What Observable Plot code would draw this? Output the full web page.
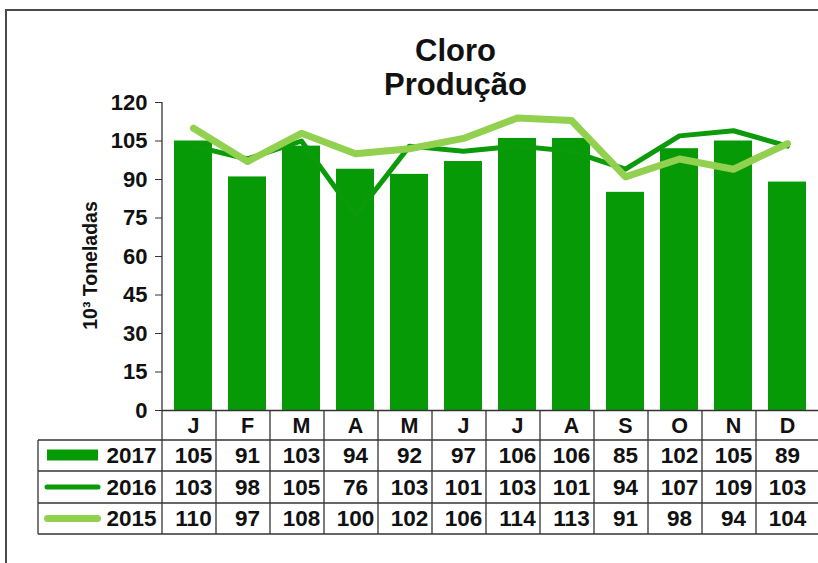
<!DOCTYPE html>
<html>
<head>
<meta charset="utf-8">
<script src="https://cdn.jsdelivr.net/npm/d3@7"></script>
<script src="https://cdn.jsdelivr.net/npm/@observablehq/plot@0.6"></script>
<style>
  html, body { margin: 0; padding: 0; background: #fff; }
  #wrap { position: relative; width: 818px; height: 563px; overflow: hidden; }
  #border { position: absolute; left: 5px; top: 9px; right: -10px; bottom: -10px;
            border-top: 2px solid #4a4a4a; border-left: 2px solid #4a4a4a; pointer-events: none; }
  #chart { position: absolute; left: 0; top: 0; }
</style>
</head>
<body>
<div id="wrap"><div id="chart"></div><div id="border"></div></div>
<script>
const months = ["Jan","Fev","Mar","Abr","Mai","Jun","Jul","Ago","Set","Out","Nov","Dez"];
const monthLetters = ["J","F","M","A","M","J","J","A","S","O","N","D"];
const v2017 = [105, 91, 103, 94, 92, 97, 106, 106, 85, 102, 105, 89];
const v2016 = [103, 98, 105, 76, 103, 101, 103, 101, 94, 107, 109, 103];
const v2015 = [110, 97, 108, 100, 102, 106, 114, 113, 91, 98, 94, 104];
const yTicks = [0, 15, 30, 45, 60, 75, 90, 105, 120];
const seriesNames = ["2017", "2016", "2015"];
const titleLines = ["Cloro", "Produção"];
const yLabel = "10³ Toneladas";

const C2017 = "#079a07", C2016 = "#0a9a0a", C2015 = "#92d050";

const toRows = (vals) => months.map((m, i) => ({month: m, value: vals[i]}));
const d2017 = toRows(v2017), d2016 = toRows(v2016), d2015 = toRows(v2015);
const header = months.map((m, i) => ({month: m, letter: monthLetters[i]}));

const FONT = "Liberation Sans, Arial, sans-serif";
// row centers below the x axis (pixel offsets)
const rowDy = [45.5, 77, 108.5];
const numFont = {fontFamily: FONT, fontWeight: "bold", fontSize: 22.5, fill: "#111", lineAnchor: "middle"};

const chart = Plot.plot({
  width: 818,
  height: 563,
  marginLeft: 162,
  marginRight: 0,
  marginTop: 102,
  marginBottom: 153,
  style: {fontFamily: FONT, color: "#111", background: "transparent", overflow: "visible"},
  x: {domain: months, paddingInner: 0.3, paddingOuter: 0.15, axis: null},
  y: {domain: [0, 120], axis: null},
  marks: [
    Plot.barY(d2017, {x: "month", y: "value", fill: C2017}),
    Plot.lineY(d2016, {x: "month", y: "value", stroke: C2016, strokeWidth: 5, strokeLinejoin: "round"}),
    Plot.lineY(d2015, {x: "month", y: "value", stroke: C2015, strokeWidth: 7, strokeLinejoin: "round"}),
    Plot.axisY({ticks: yTicks, tickSize: 7, tickPadding: 8, label: null, stroke: "#333",
                fontSize: 22, fontWeight: "bold", fontFamily: FONT, fill: "#111"}),
    Plot.ruleY([0], {stroke: "#333", strokeWidth: 1.3}),
    // title
    Plot.text([titleLines[0]], {frameAnchor: "top", lineAnchor: "middle", dx: -35, dy: -51.5, fontSize: 31,
                                fontWeight: "bold", fontFamily: FONT, fill: "#111"}),
    Plot.text([titleLines[1]], {frameAnchor: "top", lineAnchor: "middle", dx: -35, dy: -17.5, fontSize: 31,
                                fontWeight: "bold", fontFamily: FONT, fill: "#111"}),
    // y label
    Plot.text([yLabel], {frameAnchor: "left", textAnchor: "middle", lineAnchor: "middle", rotate: -90,
                         dx: -72, dy: 9, fontSize: 19.5, fontWeight: "bold", fontFamily: FONT, fill: "#111"}),
    // table header
    Plot.text(header, {x: "month", text: "letter", frameAnchor: "bottom", dy: 15.5, ...numFont, fontSize: 21.5}),
    // table values
    Plot.text(d2017, {x: "month", text: "value", frameAnchor: "bottom", dy: rowDy[0], ...numFont}),
    Plot.text(d2016, {x: "month", text: "value", frameAnchor: "bottom", dy: rowDy[1], ...numFont}),
    Plot.text(d2015, {x: "month", text: "value", frameAnchor: "bottom", dy: rowDy[2], ...numFont}),
    // legend labels
    Plot.text([seriesNames[0]], {frameAnchor: "bottom-left", dx: -6, dy: rowDy[0], textAnchor: "end", ...numFont}),
    Plot.text([seriesNames[1]], {frameAnchor: "bottom-left", dx: -6, dy: rowDy[1], textAnchor: "end", ...numFont}),
    Plot.text([seriesNames[2]], {frameAnchor: "bottom-left", dx: -6, dy: rowDy[2], textAnchor: "end", ...numFont})
  ]
});

document.getElementById("chart").appendChild(chart);

// table grid and legend swatches, derived from the plot's scales
const sx = chart.scale("x"), sy = chart.scale("y");
const x0 = sx.range[0], x1 = sx.range[1], step = sx.step;
const y0 = sy.apply(0), yTop = sy.apply(120);
const rowEdges = [y0, y0 + 30, y0 + 61, y0 + 93, y0 + 124];
const tableLeft = 38;

const svg = d3.select(chart);
const g = svg.append("g").attr("stroke", "#333").attr("stroke-width", 1.3).attr("fill", "none");
// y axis line, extending through the table
g.append("line").attr("x1", x0).attr("x2", x0).attr("y1", yTop).attr("y2", rowEdges[4]);
// column separators (the last one falls on the cropped right edge)
for (let i = 1; i < months.length; i++) {
  const xx = x0 + i * step;
  g.append("line").attr("x1", xx).attr("x2", xx).attr("y1", y0).attr("y2", rowEdges[4]);
}
// horizontal row lines
for (let r = 1; r < rowEdges.length; r++) {
  g.append("line").attr("x1", tableLeft).attr("x2", x1).attr("y1", rowEdges[r]).attr("y2", rowEdges[r]);
}
// legend column left edge
g.append("line").attr("x1", tableLeft).attr("x2", tableLeft).attr("y1", rowEdges[1]).attr("y2", rowEdges[4]);

// legend swatches
const sw = svg.append("g");
sw.append("rect").attr("x", 47).attr("y", y0 + 39.5).attr("width", 51).attr("height", 11).attr("fill", C2017);
sw.append("line").attr("x1", 47).attr("x2", 98).attr("y1", y0 + 77).attr("y2", y0 + 77)
  .attr("stroke", C2016).attr("stroke-width", 5).attr("stroke-linecap", "round");
sw.append("line").attr("x1", 47.5).attr("x2", 97.5).attr("y1", y0 + 108.5).attr("y2", y0 + 108.5)
  .attr("stroke", C2015).attr("stroke-width", 7).attr("stroke-linecap", "round");
</script>
</body>
</html>
